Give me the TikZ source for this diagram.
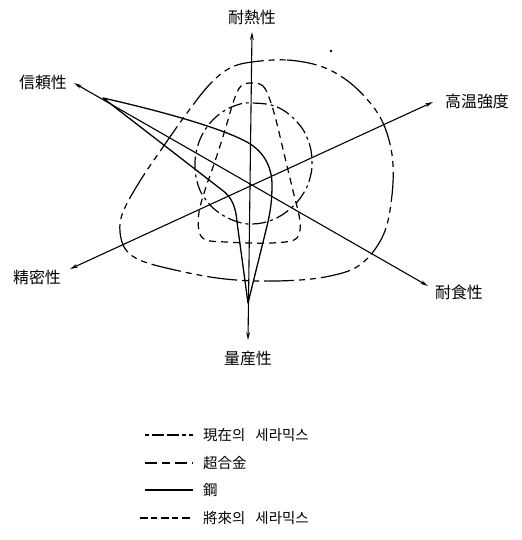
\documentclass[tikz,border=0pt]{standalone}
\usepackage{fontspec}
\newfontfamily\krfont{Noto Sans CJK KR}
\usetikzlibrary{arrows.meta}
\begin{document}
\begin{tikzpicture}[x=1bp,y=-1bp,
  lbl/.style={font=\krfont\fontsize{16}{19}\selectfont, inner sep=0pt},
  leg/.style={font=\krfont\fontsize{14.5}{17}\selectfont, inner sep=0pt, anchor=west},
  axisline/.style={line width=1.1bp, {Stealth[length=8bp,width=3.8bp]}-{Stealth[length=8bp,width=3.8bp]}},
  steelline/.style={line width=1.3bp, line join=round},
  alloyline/.style={line width=1.2bp, dash pattern=on 7bp off 5bp},
  presline/.style={line width=1.2bp, dash pattern=on 14bp off 4bp on 3bp off 4bp},
  futline/.style={line width=1.2bp, dash pattern=on 30bp off 5bp on 6bp off 5bp on 6bp off 5bp},
]
\useasboundingbox (0,0) rectangle (522,540);
\fill[white] (0,0) rectangle (522,540);

% axis end points
\coordinate (heatT) at (252,32);
\coordinate (massB) at (248,340);
\coordinate (relT) at (74,83);
\coordinate (corT) at (428,286);
\coordinate (strT) at (433,102);
\coordinate (precT) at (70,269);

% axis labels
\node[lbl] (heat) at (252,17) {耐熱性};
\node[lbl] (rel) at (43,82) {信頼性};
\node[lbl] (str) at (477,101) {高温強度};
\node[lbl] (prec) at (37,277) {精密性};
\node[lbl] (cor) at (459,292) {耐食性};
\node[lbl] (mass) at (248,358) {量産性};

% future ceramics
\draw[futline] plot[smooth cycle, tension=0.6] coordinates {(252,62) (287,60) (320,66) (345,79) (365,97) (380,117) (389,140) (393,165) (392,195) (386,228) (373,252) (355,268) (330,276) (300,280) (257,281) (217,278) (175,270) (142,261) (126,250) (120,232) (123,212) (140,181) (163,147) (187,113) (210,84) (230,68)};

% present ceramics
\draw[presline] plot[smooth cycle, tension=0.7] coordinates {(252,103) (277,107) (297,122) (308,140) (312,160) (310,178) (303,194) (290,209) (272,220) (252,224) (235,221) (218,212) (206,200) (198,185) (195,165) (198,145) (207,127) (221,113) (237,105)};

% super alloy
\draw[alloyline] plot[smooth cycle, tension=0.6] coordinates {(252,83) (263,86) (270,100) (276,120) (282,145) (288,170) (294,195) (299,215) (300,230) (294,240) (272,243) (250,243) (226,242) (206,240) (199,231) (199,212) (205,190) (213,167) (221,143) (228,120) (234,100) (241,86)};

% steel
\draw[steelline] (103,98) .. controls (165,112) and (220,128) .. (245,141) .. controls (263,150) and (272,166) .. (272,185) .. controls (272,202) and (270,212) .. (268,222) -- (248,303) -- (237,222) .. controls (236,208) and (232,197) .. (222,190) -- cycle;

% axes
\draw[axisline] (massB) -- (heatT);
\draw[axisline] (relT) -- (corT);
\draw[axisline] (precT) -- (strT);

% speck
\fill (331,51) circle (1.3bp);

% legend
\coordinate (l1a) at (145,435); \coordinate (l1b) at (193,435);
\coordinate (l2a) at (145,463); \coordinate (l2b) at (193,463);
\coordinate (l3a) at (145,490); \coordinate (l3b) at (193,490);
\coordinate (l4a) at (140,518); \coordinate (l4b) at (193,518);
\draw[presline, dash pattern=on 4bp off 3bp on 12bp off 3bp on 12bp off 3bp] (l1a) -- (l1b);
\draw[alloyline, dash pattern=on 12bp off 5bp on 8bp off 5bp] (l2a) -- (l2b);
\draw[steelline] (l3a) -- (l3b);
\draw[futline, dash pattern=on 8bp off 3bp on 6bp off 4bp] (l4a) -- (l4b);
\node[leg] (t1) at (203,435) {現在의\hspace{0.7em}세라믹스};
\node[leg] (t2) at (203,463) {超合金};
\node[leg] (t3) at (203,490) {鋼};
\node[leg] (t4) at (203,518) {將來의\hspace{0.7em}세라믹스};
\end{tikzpicture}
\end{document}
